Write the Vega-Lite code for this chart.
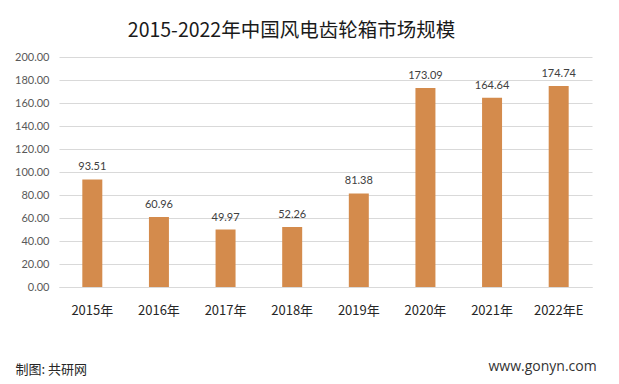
{
  "$schema": "https://vega.github.io/schema/vega-lite/v6.json",
  "width": 533,
  "height": 230,
  "autosize": "none",
  "padding": {"left": 59, "top": 57, "right": 27, "bottom": 97},
  "background": "white",
  "title": {
    "text": "2015-2022年中国风电齿轮箱市场规模",
    "font": "Noto Sans CJK SC",
    "fontSize": 19.5,
    "fontWeight": "normal",
    "color": "#1a1a1a",
    "anchor": "middle",
    "dx": -34,
    "dy": 25,
    "baseline": "alphabetic",
    "offset": 20
  },
  "data": {
    "values": [
      {"year": "2015年", "value": 93.51},
      {"year": "2016年", "value": 60.96},
      {"year": "2017年", "value": 49.97},
      {"year": "2018年", "value": 52.26},
      {"year": "2019年", "value": 81.38},
      {"year": "2020年", "value": 173.09},
      {"year": "2021年", "value": 164.64},
      {"year": "2022年E", "value": 174.74}
    ]
  },
  "encoding": {
    "x": {
      "field": "year",
      "type": "nominal",
      "sort": null,
      "scale": {"paddingInner": 0.7, "paddingOuter": 0.35},
      "axis": {
        "title": "制图: 共研网",
        "titleFont": "Noto Sans CJK SC",
        "titleFontSize": 13,
        "titleFontWeight": "normal",
        "titleColor": "#262626",
        "titleAnchor": "start",
        "titleAlign": "left",
        "titleBaseline": "alphabetic",
        "titleX": -44,
        "titleY": 86,
        "labelAngle": 0,
        "labelFont": "Noto Sans CJK SC",
        "labelFontSize": 13,
        "labelColor": "#262626",
        "labelPadding": 17,
        "ticks": false,
        "domainColor": "#D9D9D9",
        "grid": false
      }
    },
    "y": {
      "field": "value",
      "type": "quantitative",
      "scale": {"domain": [0, 200]},
      "axis": {
        "title": "www.gonyn.com",
        "titleAngle": 0,
        "titleFont": "Open Sans",
        "titleFontSize": 14,
        "titleFontWeight": "normal",
        "titleColor": "#333333",
        "titleAlign": "left",
        "titleBaseline": "alphabetic",
        "titleX": 429,
        "titleY": 313,
        "values": [0, 20, 40, 60, 80, 100, 120, 140, 160, 180, 200],
        "format": ".2f",
        "labelFont": "Lato",
        "labelFontSize": 11,
        "labelColor": "#595959",
        "labelPadding": 10,
        "ticks": false,
        "domain": false,
        "gridColor": "#D9D9D9"
      }
    }
  },
  "layer": [
    {"mark": {"type": "bar", "color": "#D48B4C"}},
    {
      "mark": {
        "type": "text",
        "font": "Lato",
        "fontSize": 11,
        "color": "#404040",
        "baseline": "alphabetic",
        "dy": -9
      },
      "encoding": {
        "text": {"field": "value", "type": "quantitative", "format": ".2f"}
      }
    }
  ],
  "config": {
    "view": {"stroke": null}
  }
}
